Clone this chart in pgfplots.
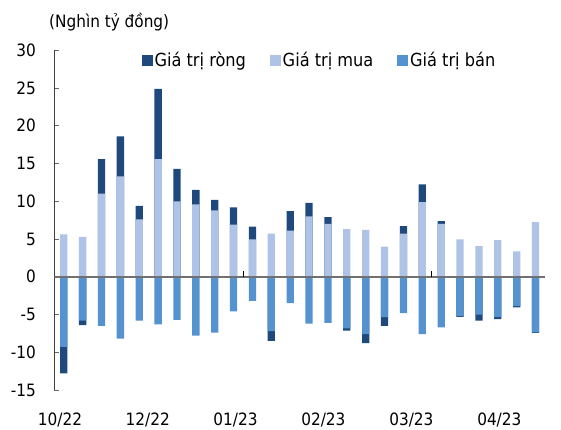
\documentclass[border=0pt]{standalone}
\usepackage{pgfplots}
\pgfplotsset{compat=1.18}
\usepackage{pgfplotstable}
\usepackage{fontspec}
\setmainfont{DejaVu Sans Condensed}
\definecolor{rong}{RGB}{31,73,125}
\definecolor{mua}{RGB}{174,195,229}
\definecolor{ban}{RGB}{85,146,208}
\definecolor{zeroline}{RGB}{112,112,112}
\newcommand\cf{\fontsize{17}{20}\selectfont}
\newcommand\lf{\fontsize{18}{21}\selectfont}
\pgfplotstableread{
x mua ban rong
0 5.6 -9.3 -3.5
1 5.3 -5.8 -0.6
2 11.0 -6.5 4.6
3 13.3 -8.2 5.3
4 7.6 -5.8 1.8
5 15.6 -6.3 9.3
6 10.0 -5.7 4.3
7 9.6 -7.8 1.9
8 8.8 -7.4 1.4
9 6.9 -4.6 2.3
10 4.95 -3.2 1.7
11 5.7 -7.2 -1.3
12 6.1 -3.5 2.6
13 8.0 -6.2 1.8
14 7.0 -6.1 0.9
15 6.3 -6.85 -0.3
16 6.2 -7.6 -1.2
17 4.0 -5.35 -1.15
18 5.7 -4.8 1.0
19 9.9 -7.6 2.35
20 7.0 -6.7 0.36
21 4.95 -5.2 -0.1
22 4.07 -5.0 -0.8
23 4.86 -5.35 -0.25
24 3.36 -3.88 -0.17
25 7.25 -7.37 -0.05
}\data
\begin{document}
\begin{tikzpicture}
\path[use as bounding box] (0pt,0pt) rectangle (561pt,429pt);
\node[anchor=west, inner sep=0pt, font=\cf] at (49pt,407pt) {(Nghìn tỷ đồng)};
\begin{axis}[
  at={(54.3pt,39pt)}, anchor=south west,
  scale only axis, width=490.7pt, height=339.7pt,
  xmin=-0.5, xmax=25.5, ymin=-15, ymax=30,
  axis y line*=left, axis x line*=bottom,
  x axis line style={draw=none},
  y axis line style={draw=black!75, line width=1.2pt},
  ytick={-15,-10,-5,0,5,10,15,20,25,30},
  yticklabels={-15,-10,-5,0,5,10,15,20,25,30},
  xtick={-0.2,4.45,9.1,13.76,18.42,23.08},
  xticklabels={10/22,12/22,01/23,02/23,03/23,04/23},
  xtick style={draw=none},
  ytick style={draw=black!60, line width=1pt},
  tick align=inside, major tick length=5pt,
  every tick label/.append style={font=\cf},
  yticklabel style={xshift=-15pt},
  xticklabel style={yshift=-19pt},
  legend style={at={(axis description cs:0.178,0.97)}, anchor=west, draw=none, fill=none,
    font=\lf, inner sep=0pt, nodes={inner xsep=2pt, inner ysep=1pt},
    /tikz/every even column/.append style={column sep=22pt}},
  legend columns=3,
  legend image code/.code={\fill[#1] (0pt,-5.3pt) rectangle (10.7pt,5.3pt);},
]
\addplot[ybar, bar shift=0pt, bar width=7.3pt, fill=rong, draw=none]
  table[x=x, y expr={ifthenelse(\thisrow{rong}>0,\thisrow{mua}+\thisrow{rong},\thisrow{ban}+\thisrow{rong})}] {\data};
\addlegendentry{Giá trị ròng}
\addplot[ybar, bar shift=0pt, bar width=7.3pt, fill=mua, draw=none]
  table[x=x, y=mua] {\data};
\addlegendentry{Giá trị mua}
\addplot[ybar, bar shift=0pt, bar width=7.3pt, fill=ban, draw=none]
  table[x=x, y=ban] {\data};
\addlegendentry{Giá trị bán}
\draw[zeroline, line width=2pt] (axis cs:-0.5,0) -- (axis cs:25.5,0);
\draw[black, line width=0.8pt] (axis cs:9.5,0) -- (axis cs:9.5,0.8);
\draw[black, line width=0.8pt] (axis cs:19.5,0) -- (axis cs:19.5,0.8);
\end{axis}
\end{tikzpicture}
\end{document}
